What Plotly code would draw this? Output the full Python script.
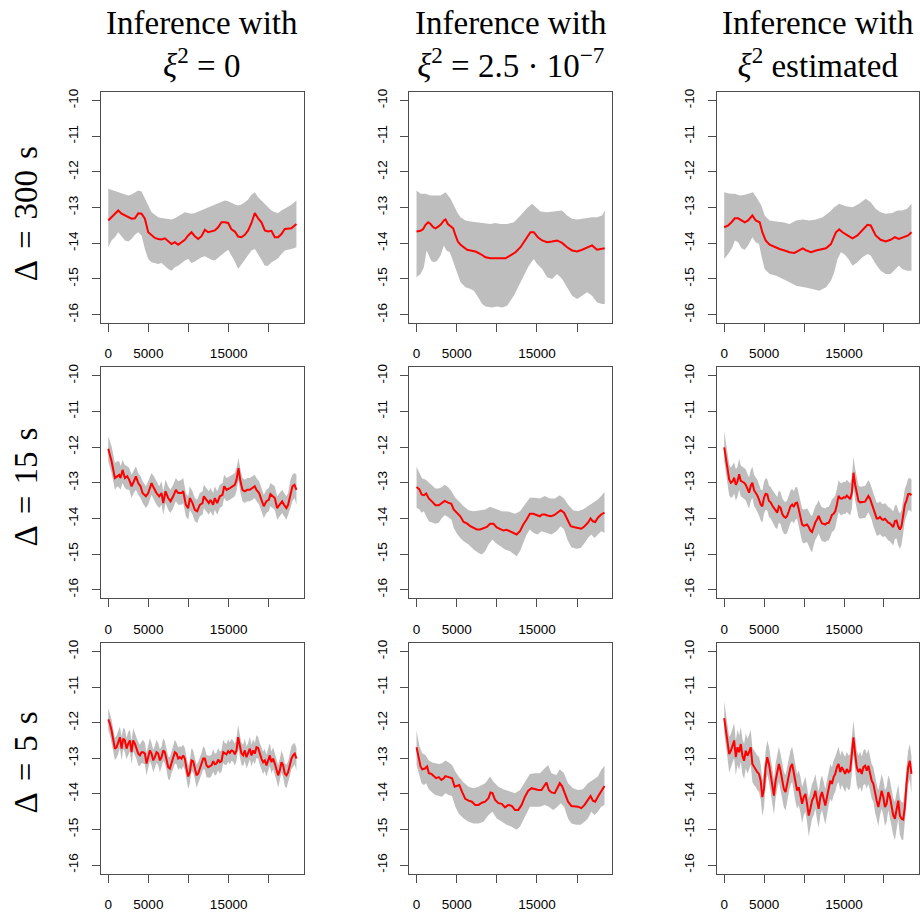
import plotly.graph_objects as go

# ---------------- data (time in seconds, log-scale values) ----------------
X_TICKS = [0, 5000, 15000]
X_TICK_TEXT = ["0", "5000", "15000"]
X_MINOR_TICKS = [10000, 20000]
Y_TICKS = [-16, -15, -14, -13, -12, -11, -10]
Y_TICK_TEXT = ["-16", "-15", "-14", "-13", "-12", "-11", "-10"]

COL_TITLES = ["Inference with<br><i>ξ</i><sup>2</sup> = 0",
              "Inference with<br><i>ξ</i><sup>2</sup> = 2.5 · 10<sup>−7</sup>",
              "Inference with<br><i>ξ</i><sup>2</sup> estimated"]
ROW_TITLES = ["Δ\u2004=\u2004300\u2004s", "Δ\u2004=\u200415\u2004s", "Δ\u2004=\u20045\u2004s"]

# common time grid for the densely sampled panels
T5 = [0, 208, 415, 623, 830, 1038, 1245, 1453, 1660, 1868,
      2075, 2283, 2490, 2698, 2905, 3113, 3320, 3528, 3735, 3943,
      4150, 4358, 4565, 4773, 4980, 5188, 5395, 5603, 5810, 6018,
      6225, 6433, 6640, 6848, 7055, 7263, 7470, 7678, 7885, 8093,
      8300, 8508, 8715, 8923, 9130, 9338, 9545, 9753, 9960, 10168,
      10375, 10583, 10790, 10998, 11205, 11413, 11620, 11828, 12035, 12243,
      12450, 12658, 12865, 13073, 13280, 13488, 13695, 13903, 14110, 14318,
      14525, 14733, 14940, 15148, 15355, 15563, 15770, 15978, 16185, 16393,
      16600, 16808, 17015, 17223, 17430, 17638, 17845, 18053, 18260, 18468,
      18675, 18883, 19090, 19298, 19505, 19713, 19920, 20128, 20335, 20543,
      20750, 20958, 21165, 21373, 21580, 21788, 21995, 22203, 22410, 22618,
      22825, 23033, 23240, 23448]

# ---- row 1, col 1 ----
R1C1_X = [0, 415, 830, 1245, 1660, 2075, 2490, 2905, 3320, 3735, 4150, 4565, 4980, 5395, 5810,
          6225, 6640, 7055, 7470, 7885, 8300, 8715, 9130, 9545, 9960, 10375, 10790, 11205, 11620,
          12035, 12450, 12865, 13280, 13695, 14110, 14525, 14940, 15355, 15770, 16185, 16600,
          17015, 17430, 17845, 18260, 18675, 19090, 19505, 19920, 20335, 20750, 21165, 21580,
          21995, 22410, 22825, 23447]
R1C1_MID = [-13.36, -13.27, -13.18, -13.08, -13.17, -13.22, -13.27, -13.31, -13.30, -13.16,
            -13.17, -13.31, -13.69, -13.78, -13.85, -13.88, -13.89, -13.86, -13.95, -14.02,
            -13.97, -14.04, -13.97, -13.90, -13.78, -13.69, -13.80, -13.88, -13.80, -13.62,
            -13.69, -13.67, -13.64, -13.55, -13.41, -13.41, -13.43, -13.61, -13.67, -13.81,
            -13.83, -13.76, -13.64, -13.43, -13.15, -13.30, -13.41, -13.64, -13.67, -13.65,
            -13.83, -13.83, -13.74, -13.60, -13.58, -13.58, -13.46]
R1C1_HI = [-12.47, -12.50, -12.54, -12.57, -12.58, -12.61, -12.66, -12.63, -12.58, -12.52,
           -12.55, -12.73, -12.94, -13.13, -13.20, -13.27, -13.29, -13.30, -13.31, -13.33,
           -13.30, -13.24, -13.17, -13.13, -13.15, -13.17, -13.15, -13.11, -13.08, -13.03,
           -13.01, -12.96, -12.92, -12.87, -12.85, -12.80, -12.82, -12.87, -12.91, -12.94,
           -12.91, -12.85, -12.77, -12.64, -12.57, -12.71, -12.80, -12.89, -12.99, -13.08,
           -13.13, -13.15, -13.08, -13.03, -12.99, -12.92, -12.80]
R1C1_LO = [-14.11, -13.92, -13.83, -13.69, -13.80, -13.92, -13.95, -13.88, -13.76, -13.69,
           -13.78, -14.16, -14.44, -14.53, -14.56, -14.58, -14.55, -14.63, -14.72, -14.77,
           -14.67, -14.63, -14.56, -14.48, -14.44, -14.55, -14.51, -14.46, -14.39, -14.36,
           -14.42, -14.46, -14.48, -14.42, -14.33, -14.25, -14.18, -14.33, -14.51, -14.72,
           -14.58, -14.48, -14.33, -14.20, -14.16, -14.30, -14.46, -14.63, -14.63, -14.53,
           -14.48, -14.42, -14.30, -14.20, -14.18, -14.16, -14.11]

# ---- row 1, col 2 ----
R1C2_MID_X = [0, 498, 830, 1120, 1453, 1743, 2075, 2366, 2781, 3071, 3403, 3611, 3901, 4233, 4565,
              4856, 5146, 5478, 5893, 6308, 6723, 7346, 7968, 8591, 9213, 9836, 10458, 11081,
              11703, 12326, 12948, 13571, 14193, 14608, 15106, 15646, 16268, 16891, 17513,
              18136, 18758, 19381, 20003, 20626, 21248, 21871, 22493, 23116, 23450]
R1C2_MID = [-13.67, -13.65, -13.60, -13.48, -13.41, -13.46, -13.55, -13.58, -13.52, -13.46,
            -13.36, -13.33, -13.46, -13.52, -13.58, -13.78, -13.95, -14.04, -14.11, -14.18,
            -14.20, -14.23, -14.30, -14.39, -14.42, -14.42, -14.44, -14.42, -14.34, -14.25,
            -14.11, -13.88, -13.69, -13.69, -13.83, -13.92, -13.97, -13.95, -13.92, -13.99,
            -14.11, -14.20, -14.23, -14.18, -14.11, -14.06, -14.18, -14.16, -14.14]
R1C2_HI_X = [0, 498, 1120, 1743, 2366, 2988, 3611, 4233, 4648, 5063, 5478, 6101, 6723, 7346, 7968,
             8591, 9213, 9836, 10458, 11288, 12118, 12948, 13778, 14401, 14816, 15438, 16268,
             16891, 17513, 18136, 18758, 19381, 20003, 20626, 21248, 21871, 22493, 23116, 23450]
R1C2_HI = [-12.52, -12.61, -12.61, -12.66, -12.66, -12.66, -12.57, -12.75, -12.94, -13.13,
           -13.27, -13.36, -13.39, -13.41, -13.43, -13.46, -13.46, -13.43, -13.46, -13.46,
           -13.41, -13.22, -13.01, -12.89, -12.99, -13.11, -13.13, -13.11, -13.08, -13.08,
           -13.22, -13.31, -13.33, -13.31, -13.27, -13.27, -13.27, -13.22, -13.08]
R1C2_LO_X = [0, 498, 913, 1245, 1536, 1826, 2158, 2573, 2988, 3403, 3735, 4150, 4648, 5063, 5478,
             6101, 6723, 7138, 7553, 8176, 8591, 9421, 10043, 10666, 11288, 12118, 12741, 13363,
             13986, 14608, 15023, 15646, 16268, 16891, 17513, 18136, 18758, 19381, 20003, 20626,
             21248, 21871, 22493, 23116, 23450]
R1C2_LO = [-14.95, -14.86, -14.67, -14.20, -14.34, -14.49, -14.53, -14.49, -14.34, -14.06,
           -14.20, -14.25, -14.53, -14.81, -15.09, -15.23, -15.28, -15.33, -15.47, -15.70,
           -15.77, -15.80, -15.77, -15.80, -15.75, -15.47, -15.19, -14.91, -14.63, -14.44,
           -14.58, -14.72, -14.95, -15.00, -14.86, -15.00, -15.23, -15.47, -15.56, -15.47,
           -15.37, -15.47, -15.66, -15.70, -15.70]

# ---- row 1, col 3 ----
R1C3_MID_X = [0, 498, 913, 1328, 1743, 2158, 2573, 2988, 3528, 3943, 4441, 4773, 5188, 5686, 6308,
              6931, 7553, 8176, 8798, 9421, 9836, 10251, 10873, 11496, 12118, 12741, 13363, 13986,
              14401, 14816, 15438, 16061, 16683, 17306, 17928, 18343, 18966, 19588, 20211, 20833,
              21373, 21871, 22493, 23033, 23448]
R1C3_MID = [-13.55, -13.50, -13.41, -13.30, -13.30, -13.36, -13.41, -13.36, -13.22, -13.36,
            -13.41, -13.69, -13.92, -14.04, -14.11, -14.16, -14.20, -14.25, -14.27, -14.18,
            -14.14, -14.20, -14.25, -14.20, -14.16, -14.14, -14.02, -13.69, -13.61, -13.69,
            -13.78, -13.86, -13.78, -13.64, -13.48, -13.50, -13.78, -13.90, -13.95, -13.90,
            -13.83, -13.88, -13.83, -13.78, -13.69]
R1C3_HI_X = [0, 706, 1328, 1951, 2573, 3196, 3611, 4026, 4648, 5063, 5686, 6516, 7346, 8176, 9006,
             9836, 10666, 11496, 12326, 13156, 13778, 14401, 15231, 16061, 16891, 17721, 18343,
             18966, 19588, 20211, 21041, 21663, 22286, 22908, 23448]
R1C3_HI = [-12.57, -12.61, -12.61, -12.66, -12.64, -12.61, -12.57, -12.71, -12.94, -13.22,
           -13.36, -13.39, -13.41, -13.46, -13.36, -13.33, -13.36, -13.33, -13.27, -13.13,
           -12.99, -12.89, -12.96, -12.99, -12.89, -12.75, -12.85, -13.03, -13.13, -13.17,
           -13.15, -13.08, -13.08, -13.03, -12.89]
R1C3_LO_X = [0, 498, 1038, 1328, 1743, 2158, 2573, 2988, 3528, 3943, 4358, 4648, 5063, 5686, 6516,
             7346, 8176, 9006, 9836, 10666, 11911, 12741, 13363, 13778, 14193, 14608, 15023,
             15563, 16061, 16683, 17306, 17928, 18343, 18966, 19588, 20211, 20833, 21456, 21871,
             22286, 22908, 23448]
R1C3_LO = [-14.44, -14.30, -14.11, -13.92, -13.97, -14.14, -14.18, -14.06, -13.83, -13.97,
           -14.02, -14.34, -14.72, -14.86, -14.91, -15.00, -15.09, -15.19, -15.23, -15.26,
           -15.33, -15.23, -15.05, -14.81, -14.44, -14.25, -14.30, -14.44, -14.63, -14.53,
           -14.39, -14.30, -14.34, -14.58, -14.77, -14.86, -14.86, -14.72, -14.63, -14.72,
           -14.77, -14.77]

# ---- row 2, col 1 ----
R2C1_X = [0, 415, 830, 1120, 1370, 1535, 1785, 2075, 2365, 2615, 2905, 3195, 3445, 3735, 4025,
          4275, 4690, 4980, 5395, 5685, 6020, 6350, 6640, 6850, 7140, 7470, 7760, 8090, 8425,
          8715, 9130, 9340, 9670, 9960, 10170, 10500, 10790, 11080, 11410, 11745, 11910, 12240,
          12530, 12740, 13070, 13280, 13570, 13900, 14235, 14440, 14735, 15150, 15480, 15770,
          15980, 16225, 16475, 16725, 17015, 17305, 17640, 17970, 18260, 18470, 18800, 19090,
          19380, 19710, 20000, 20210, 20460, 20750, 21040, 21370, 21665, 21910, 22200, 22410,
          22700, 22950, 23200, 23450]
R2C1_MID = [-12.05, -12.40, -12.87, -12.82, -12.78, -12.87, -12.64, -12.87, -12.82, -12.92,
            -13.10, -12.96, -12.82, -13.01, -13.10, -13.29, -13.38, -13.29, -13.01, -13.15,
            -13.29, -13.38, -13.29, -13.57, -13.24, -13.43, -13.52, -13.38, -13.20, -13.29,
            -13.29, -13.24, -13.62, -13.71, -13.43, -13.57, -13.76, -13.80, -13.62, -13.57,
            -13.38, -13.48, -13.57, -13.48, -13.62, -13.43, -13.57, -13.38, -13.34, -13.10,
            -13.20, -13.15, -13.10, -13.06, -12.92, -12.59, -12.96, -13.20, -13.24, -13.20,
            -13.20, -13.15, -13.10, -13.20, -13.29, -13.48, -13.66, -13.52, -13.48, -13.32,
            -13.38, -13.43, -13.71, -13.62, -13.52, -13.62, -13.71, -13.62, -13.34, -13.10,
            -13.06, -13.20]
R2C1_HI = [-11.70, -11.98, -12.45, -12.40, -12.40, -12.54, -12.36, -12.50, -12.54, -12.59,
           -12.78, -12.64, -12.54, -12.73, -12.82, -12.96, -13.10, -12.96, -12.73, -12.82,
           -12.96, -13.10, -12.96, -13.24, -12.92, -13.10, -13.20, -13.06, -12.87, -12.96,
           -12.92, -12.87, -13.29, -13.38, -13.10, -13.24, -13.43, -13.48, -13.29, -13.24,
           -13.06, -13.15, -13.24, -13.15, -13.29, -13.10, -13.24, -13.06, -13.01, -12.78,
           -12.87, -12.82, -12.78, -12.73, -12.59, -12.31, -12.64, -12.87, -12.92, -12.87,
           -12.87, -12.82, -12.78, -12.87, -12.96, -13.15, -13.34, -13.20, -13.15, -13.01,
           -13.06, -13.10, -13.38, -13.29, -13.20, -13.29, -13.38, -13.29, -12.92, -12.78,
           -12.73, -12.78]
R2C1_LO = [-12.40, -12.73, -13.20, -13.10, -13.14, -13.20, -13.01, -13.15, -13.20, -13.20,
           -13.43, -13.29, -13.20, -13.34, -13.43, -13.57, -13.71, -13.62, -13.34, -13.48,
           -13.62, -13.71, -13.62, -13.90, -13.57, -13.76, -13.85, -13.71, -13.52, -13.62,
           -13.62, -13.57, -13.94, -14.04, -13.76, -13.90, -14.08, -14.13, -13.94, -13.90,
           -13.71, -13.80, -13.90, -13.80, -13.94, -13.76, -13.90, -13.71, -13.66, -13.43,
           -13.52, -13.48, -13.43, -13.38, -13.24, -12.92, -13.29, -13.52, -13.57, -13.52,
           -13.52, -13.48, -13.43, -13.52, -13.62, -13.80, -13.99, -13.85, -13.80, -13.66,
           -13.71, -13.76, -14.04, -13.94, -13.85, -13.94, -14.04, -13.94, -13.71, -13.52,
           -13.43, -13.62]

# ---- row 2, col 2 ----
R2C2_MID_X = [0, 372, 620, 909, 1198, 1528, 1941, 2354, 2767, 3180, 3511, 3924, 4337, 4626, 5039,
              5452, 5865, 6278, 6691, 7104, 7517, 7930, 8343, 8756, 9169, 9582, 9995, 10408,
              10821, 11234, 11647, 12060, 12473, 12886, 13299, 13712, 14125, 14538, 14951, 15364,
              15653, 15983, 16314, 16727, 17140, 17553, 17966, 18379, 18792, 19205, 19700, 20113,
              20526, 20939, 21352, 21683, 21972, 22261, 22591, 23004, 23417]
R2C2_MID = [-13.12, -13.19, -13.33, -13.35, -13.30, -13.44, -13.53, -13.63, -13.63, -13.56,
            -13.51, -13.56, -13.59, -13.75, -13.84, -13.94, -14.10, -14.14, -14.22, -14.26,
            -14.31, -14.31, -14.28, -14.24, -14.15, -14.15, -14.25, -14.29, -14.34, -14.32,
            -14.36, -14.40, -14.45, -14.36, -14.17, -14.03, -13.87, -13.87, -13.91, -13.94,
            -13.89, -13.89, -13.92, -13.94, -13.91, -13.84, -13.77, -13.84, -14.03, -14.22,
            -14.25, -14.26, -14.29, -14.22, -14.12, -14.00, -14.08, -14.10, -13.98, -13.89,
            -13.84]
R2C2_HI_X = [0, 372, 702, 1115, 1528, 1941, 2354, 2767, 3180, 3511, 3924, 4337, 4832, 5245, 5865,
             6484, 7104, 7723, 8549, 9169, 9788, 10614, 11440, 12266, 12886, 13505, 14125, 14744,
             15364, 15983, 16603, 17222, 17842, 18379, 18874, 19494, 20113, 20733, 21352, 21972,
             22591, 23004, 23417]
R2C2_HI = [-12.56, -12.72, -12.88, -12.91, -13.00, -13.09, -13.16, -13.16, -13.12, -13.06,
           -13.12, -13.23, -13.42, -13.51, -13.66, -13.77, -13.80, -13.78, -13.75, -13.67,
           -13.72, -13.80, -13.81, -13.87, -13.80, -13.61, -13.42, -13.42, -13.44, -13.37,
           -13.44, -13.44, -13.35, -13.44, -13.61, -13.77, -13.80, -13.75, -13.66, -13.56,
           -13.47, -13.37, -13.26]
R2C2_LO_X = [0, 372, 620, 909, 1198, 1528, 1941, 2354, 2767, 3180, 3511, 3924, 4337, 4626, 5039,
             5452, 5865, 6484, 7104, 7723, 8136, 8549, 8962, 9458, 9871, 10408, 11027, 11647,
             12060, 12473, 12886, 13299, 13712, 14125, 14538, 15075, 15570, 16190, 16809, 17429,
             17966, 18379, 18792, 19287, 19907, 20444, 20939, 21352, 21765, 22178, 22591, 23004,
             23417]
R2C2_LO = [-13.70, -13.75, -13.84, -13.80, -13.94, -14.08, -14.12, -14.15, -14.12, -13.98,
           -13.91, -13.96, -14.03, -14.26, -14.43, -14.55, -14.64, -14.73, -14.87, -14.97,
           -15.01, -14.92, -14.73, -14.59, -14.69, -14.78, -14.87, -14.92, -15.00, -15.06,
           -14.92, -14.69, -14.45, -14.31, -14.40, -14.45, -14.36, -14.40, -14.45, -14.36,
           -14.22, -14.31, -14.59, -14.81, -14.85, -14.83, -14.69, -14.55, -14.45, -14.55,
           -14.45, -14.36, -14.40]

# ---- row 2, col 3 (on T5 grid) ----
R2C3_MID = [-12.01, -12.30, -12.62, -12.91, -13.00, -12.97, -12.86, -13.06, -12.97, -12.76,
            -12.95, -12.97, -13.00, -13.06, -13.19, -13.28, -13.09, -13.00, -13.21, -13.28,
            -13.36, -13.47, -13.61, -13.66, -13.42, -13.31, -13.33, -13.51, -13.55, -13.64,
            -13.72, -13.80, -13.84, -13.66, -13.70, -13.87, -13.95, -13.98, -13.93, -13.80,
            -13.66, -13.61, -13.68, -13.57, -13.56, -13.75, -13.98, -14.17, -14.21, -14.19,
            -14.17, -14.24, -14.34, -14.38, -14.24, -14.11, -14.03, -13.93, -14.05, -14.14,
            -14.15, -14.17, -14.13, -14.13, -14.03, -13.90, -13.87, -13.80, -13.61, -13.37,
            -13.44, -13.45, -13.41, -13.42, -13.36, -13.40, -13.46, -13.28, -12.72, -13.05,
            -13.31, -13.51, -13.55, -13.54, -13.53, -13.53, -13.45, -13.37, -13.45, -13.58,
            -13.75, -13.89, -14.00, -14.00, -13.96, -14.02, -14.04, -14.01, -14.08, -14.12,
            -14.14, -14.19, -14.24, -14.08, -14.06, -14.23, -14.31, -14.22, -13.94, -13.61,
            -13.50, -13.32, -13.31, -13.35]
R2C3_HI = [-11.55, -11.85, -12.20, -12.48, -12.58, -12.52, -12.43, -12.62, -12.55, -12.33,
           -12.52, -12.55, -12.58, -12.62, -12.76, -12.85, -12.65, -12.55, -12.78, -12.85,
           -12.92, -13.04, -13.18, -13.22, -12.98, -12.87, -12.90, -13.08, -13.12, -13.20,
           -13.28, -13.36, -13.40, -13.22, -13.26, -13.43, -13.51, -13.54, -13.49, -13.36,
           -13.22, -13.17, -13.24, -13.13, -13.12, -13.31, -13.54, -13.72, -13.76, -13.74,
           -13.72, -13.79, -13.89, -13.93, -13.79, -13.66, -13.59, -13.49, -13.61, -13.69,
           -13.70, -13.72, -13.68, -13.68, -13.59, -13.46, -13.43, -13.36, -13.17, -12.93,
           -13.00, -13.01, -12.97, -12.98, -12.92, -12.96, -13.02, -12.84, -12.28, -12.61,
           -12.87, -13.07, -13.11, -13.10, -13.09, -13.09, -13.01, -12.93, -13.01, -13.14,
           -13.31, -13.45, -13.56, -13.56, -13.52, -13.58, -13.60, -13.57, -13.64, -13.68,
           -13.70, -13.75, -13.80, -13.64, -13.62, -13.78, -13.86, -13.77, -13.50, -13.17,
           -13.06, -12.88, -12.87, -12.91]
R2C3_LO = [-12.40, -12.72, -13.05, -13.35, -13.42, -13.40, -13.30, -13.50, -13.40, -13.20,
           -13.38, -13.42, -13.45, -13.50, -13.62, -13.72, -13.52, -13.42, -13.65, -13.72,
           -13.80, -13.92, -14.05, -14.12, -13.87, -13.76, -13.78, -13.96, -14.00, -14.10,
           -14.18, -14.27, -14.30, -14.12, -14.16, -14.33, -14.42, -14.45, -14.40, -14.26,
           -14.12, -14.07, -14.14, -14.03, -14.02, -14.22, -14.45, -14.65, -14.70, -14.68,
           -14.66, -14.75, -14.88, -14.95, -14.76, -14.60, -14.52, -14.42, -14.55, -14.64,
           -14.65, -14.67, -14.62, -14.62, -14.52, -14.38, -14.35, -14.27, -14.07, -13.82,
           -13.90, -13.91, -13.87, -13.88, -13.82, -13.86, -13.92, -13.73, -13.15, -13.50,
           -13.77, -13.97, -14.01, -14.00, -13.99, -13.99, -13.91, -13.83, -13.91, -14.04,
           -14.22, -14.36, -14.48, -14.48, -14.44, -14.50, -14.52, -14.49, -14.57, -14.62,
           -14.64, -14.70, -14.76, -14.58, -14.56, -14.75, -14.85, -14.74, -14.42, -14.08,
           -13.96, -13.78, -13.77, -13.82]

# ---- row 3, col 1 (on T5 grid) ----
R3C1_MID = [-11.91, -12.03, -12.22, -12.50, -12.73, -12.69, -12.55, -12.41, -12.73, -12.45,
            -12.50, -12.73, -12.59, -12.50, -12.83, -12.50, -12.59, -12.73, -12.87, -12.92,
            -12.83, -12.83, -12.87, -13.15, -12.97, -12.78, -12.87, -13.06, -12.97, -12.83,
            -12.87, -13.06, -12.97, -12.78, -12.83, -13.01, -13.25, -13.29, -13.11, -13.01,
            -12.83, -12.87, -13.01, -12.97, -13.01, -12.92, -13.01, -13.29, -13.51, -13.39,
            -13.06, -13.08, -13.25, -13.48, -13.43, -13.29, -13.15, -13.01, -13.01, -13.20,
            -13.25, -13.23, -13.20, -13.08, -13.17, -13.15, -13.04, -13.11, -13.08, -12.83,
            -12.87, -12.89, -12.80, -12.85, -12.78, -12.80, -12.89, -12.78, -12.41, -12.64,
            -12.87, -12.92, -12.78, -12.97, -12.87, -12.73, -12.92, -12.78, -12.87, -12.69,
            -12.71, -12.87, -13.01, -13.11, -13.06, -13.20, -13.06, -12.92, -13.11, -13.01,
            -13.15, -13.29, -13.48, -13.34, -13.11, -13.20, -13.43, -13.48, -13.39, -13.20,
            -13.01, -12.92, -12.87, -13.01]
R3C1_HI = [-11.59, -11.73, -11.92, -12.18, -12.43, -12.36, -12.25, -12.11, -12.39, -12.15,
           -12.18, -12.43, -12.26, -12.20, -12.51, -12.16, -12.29, -12.43, -12.54, -12.62,
           -12.53, -12.49, -12.57, -12.85, -12.64, -12.43, -12.57, -12.76, -12.65, -12.49,
           -12.57, -12.75, -12.67, -12.43, -12.53, -12.71, -12.95, -12.97, -12.81, -12.68,
           -12.48, -12.57, -12.69, -12.67, -12.68, -12.62, -12.71, -12.99, -13.21, -13.07,
           -12.71, -12.78, -12.95, -13.18, -13.10, -12.99, -12.85, -12.67, -12.71, -12.90,
           -12.93, -12.93, -12.90, -12.75, -12.87, -12.85, -12.71, -12.81, -12.78, -12.48,
           -12.57, -12.59, -12.47, -12.55, -12.46, -12.50, -12.59, -12.44, -12.06, -12.34,
           -12.57, -12.62, -12.45, -12.67, -12.57, -12.39, -12.62, -12.46, -12.57, -12.35,
           -12.41, -12.57, -12.71, -12.81, -12.74, -12.90, -12.73, -12.58, -12.81, -12.69,
           -12.85, -12.99, -13.18, -13.02, -12.78, -12.90, -13.13, -13.18, -13.09, -12.88,
           -12.66, -12.60, -12.57, -12.71]
R3C1_LO = [-12.21, -12.35, -12.57, -12.85, -13.05, -12.99, -12.87, -12.71, -13.06, -12.75,
           -12.83, -13.03, -12.91, -12.80, -13.17, -12.80, -12.91, -13.03, -13.20, -13.22,
           -13.13, -13.15, -13.17, -13.49, -13.27, -13.08, -13.19, -13.39, -13.27, -13.13,
           -13.19, -13.40, -13.27, -13.08, -13.15, -13.34, -13.59, -13.61, -13.41, -13.31,
           -13.15, -13.17, -13.34, -13.27, -13.33, -13.22, -13.33, -13.64, -13.86, -13.71,
           -13.36, -13.40, -13.58, -13.83, -13.75, -13.59, -13.45, -13.31, -13.33, -13.53,
           -13.55, -13.55, -13.50, -13.38, -13.49, -13.45, -13.34, -13.43, -13.38, -13.13,
           -13.19, -13.19, -13.10, -13.17, -13.08, -13.10, -13.21, -13.08, -12.71, -12.97,
           -13.19, -13.22, -13.08, -13.29, -13.17, -13.03, -13.24, -13.08, -13.17, -12.99,
           -13.01, -13.19, -13.31, -13.44, -13.36, -13.52, -13.36, -13.22, -13.43, -13.31,
           -13.47, -13.62, -13.83, -13.66, -13.41, -13.53, -13.78, -13.84, -13.71, -13.50,
           -13.31, -13.24, -13.17, -13.36]

# ---- row 3, col 2 ----
R3C2_MID_X = [0, 289, 496, 702, 1033, 1322, 1528, 1859, 2148, 2437, 2767, 3098, 3387, 3593, 4006,
              4419, 4750, 5039, 5328, 5658, 6071, 6484, 6897, 7310, 7723, 8136, 8549, 8962, 9210,
              9458, 9788, 10201, 10614, 11027, 11440, 11853, 12266, 12679, 13092, 13505, 13918,
              14331, 14744, 15157, 15570, 15983, 16190, 16479, 16809, 17222, 17553, 17842, 18131,
              18461, 18874, 19287, 19700, 20113, 20526, 20939, 21352, 21683, 21972, 22261, 22591,
              23004, 23417]
R3C2_MID = [-12.69, -13.00, -13.23, -13.31, -13.29, -13.23, -13.42, -13.44, -13.51, -13.56,
            -13.53, -13.61, -13.56, -13.50, -13.53, -13.56, -13.80, -13.78, -13.75, -13.94,
            -14.14, -14.19, -14.22, -14.31, -14.31, -14.25, -14.22, -14.12, -13.96, -13.98,
            -14.17, -14.26, -14.28, -14.38, -14.31, -14.34, -14.45, -14.45, -14.31, -14.08,
            -13.91, -13.84, -13.87, -13.89, -13.89, -13.75, -13.68, -13.89, -13.96, -13.98,
            -13.84, -13.70, -13.78, -13.98, -14.22, -14.34, -14.34, -14.36, -14.40, -14.31,
            -14.17, -14.06, -14.19, -14.22, -14.08, -13.91, -13.78]
R3C2_HI_X = [0, 372, 702, 1115, 1528, 1941, 2354, 2767, 3180, 3593, 4006, 4419, 4832, 5245, 5865,
             6484, 7104, 7723, 8549, 9169, 9582, 10201, 10821, 11440, 12266, 12886, 13505, 14125,
             14744, 15364, 15983, 16396, 16809, 17429, 17842, 18379, 18874, 19494, 20113, 20733,
             21352, 21972, 22591, 23004, 23417]
R3C2_HI = [-12.22, -12.67, -12.86, -12.91, -13.06, -13.12, -13.14, -13.16, -13.14, -13.06,
           -13.12, -13.19, -13.37, -13.51, -13.68, -13.80, -13.84, -13.80, -13.70, -13.51,
           -13.66, -13.80, -13.87, -13.91, -13.98, -13.89, -13.66, -13.44, -13.42, -13.42,
           -13.28, -13.19, -13.42, -13.47, -13.31, -13.42, -13.70, -13.84, -13.89, -13.87,
           -13.70, -13.61, -13.51, -13.33, -13.21]
R3C2_LO_X = [0, 289, 620, 909, 1198, 1528, 1941, 2354, 2767, 3180, 3593, 4006, 4419, 4832, 5245,
             5865, 6484, 7104, 7723, 8343, 8962, 9458, 9995, 10614, 11234, 11853, 12473, 12886,
             13505, 14125, 14744, 15364, 15983, 16479, 17016, 17553, 17966, 18379, 18874, 19287,
             19907, 20444, 20939, 21352, 21765, 22178, 22591, 23004, 23417]
R3C2_LO = [-13.19, -13.42, -13.70, -13.75, -13.70, -13.87, -13.96, -14.03, -14.06, -14.08,
           -13.98, -14.03, -14.06, -14.36, -14.55, -14.69, -14.78, -14.83, -14.83, -14.78,
           -14.59, -14.50, -14.69, -14.78, -14.87, -14.92, -15.01, -14.92, -14.64, -14.36,
           -14.36, -14.36, -14.31, -14.36, -14.45, -14.36, -14.26, -14.36, -14.69, -14.83,
           -14.87, -14.87, -14.78, -14.69, -14.50, -14.59, -14.50, -14.36, -14.31]

# ---- row 3, col 3 (on T5 grid) ----
R3C3_MID = [-11.87, -12.18, -12.50, -12.88, -12.79, -12.64, -12.50, -12.97, -12.69, -12.83,
            -12.60, -12.93, -13.07, -12.79, -12.93, -12.83, -12.69, -13.16, -13.25, -13.30,
            -13.39, -13.44, -13.63, -14.09, -13.86, -13.25, -12.97, -13.16, -13.44, -13.81,
            -14.05, -13.63, -13.35, -13.16, -13.35, -13.63, -13.86, -13.95, -13.72, -13.44,
            -13.25, -13.16, -13.44, -13.72, -13.91, -13.81, -14.00, -14.28, -14.09, -14.00,
            -14.28, -14.61, -14.42, -14.19, -14.09, -13.91, -14.19, -14.42, -14.09, -13.95,
            -14.14, -14.33, -14.09, -13.81, -13.63, -13.72, -13.53, -13.44, -13.25, -13.16,
            -13.39, -13.25, -13.35, -13.44, -13.30, -13.39, -13.35, -12.93, -12.41, -12.88,
            -13.25, -13.39, -13.30, -13.44, -13.25, -13.21, -13.35, -13.21, -13.39, -13.63,
            -13.72, -14.00, -14.19, -14.37, -14.09, -13.91, -14.09, -14.37, -14.28, -13.95,
            -14.09, -14.37, -14.60, -14.70, -14.47, -14.19, -14.61, -14.70, -14.72, -14.37,
            -13.72, -13.25, -13.07, -13.44]
R3C3_HI = [-11.40, -11.70, -12.02, -12.40, -12.32, -12.15, -12.02, -12.50, -12.20, -12.36,
           -12.12, -12.46, -12.60, -12.30, -12.46, -12.35, -12.20, -12.70, -12.78, -12.82,
           -12.92, -12.96, -13.16, -13.62, -13.38, -12.78, -12.50, -12.68, -12.96, -13.34,
           -13.58, -13.15, -12.88, -12.68, -12.88, -13.16, -13.38, -13.48, -13.25, -12.96,
           -12.78, -12.68, -12.96, -13.25, -13.44, -13.34, -13.52, -13.80, -13.62, -13.52,
           -13.80, -14.12, -13.94, -13.72, -13.62, -13.44, -13.72, -13.94, -13.62, -13.48,
           -13.66, -13.86, -13.62, -13.34, -13.16, -13.25, -13.06, -12.96, -12.78, -12.68,
           -12.92, -12.78, -12.88, -12.96, -12.82, -12.92, -12.88, -12.45, -11.95, -12.40,
           -12.78, -12.92, -12.82, -12.96, -12.78, -12.74, -12.88, -12.74, -12.92, -13.16,
           -13.25, -13.52, -13.72, -13.90, -13.62, -13.44, -13.62, -13.90, -13.80, -13.48,
           -13.62, -13.90, -14.12, -14.22, -14.00, -13.72, -14.14, -14.22, -14.25, -13.90,
           -13.25, -12.78, -12.60, -12.96]
R3C3_LO = [-12.30, -12.65, -13.00, -13.40, -13.30, -13.12, -13.00, -13.48, -13.18, -13.33,
           -13.10, -13.45, -13.58, -13.28, -13.43, -13.32, -13.18, -13.66, -13.76, -13.80,
           -13.90, -13.95, -14.15, -14.62, -14.38, -13.75, -13.46, -13.66, -13.95, -14.32,
           -14.58, -14.13, -13.85, -13.66, -13.85, -14.14, -14.38, -14.46, -14.22, -13.94,
           -13.75, -13.66, -13.95, -14.23, -14.42, -14.32, -14.52, -14.82, -14.60, -14.50,
           -14.80, -15.20, -14.95, -14.70, -14.60, -14.42, -14.72, -14.96, -14.60, -14.45,
           -14.66, -14.86, -14.60, -14.32, -14.14, -14.22, -14.04, -13.94, -13.75, -13.66,
           -13.90, -13.75, -13.85, -13.95, -13.80, -13.90, -13.85, -13.42, -12.90, -13.38,
           -13.75, -13.90, -13.80, -13.95, -13.75, -13.72, -13.85, -13.72, -13.90, -14.14,
           -14.22, -14.52, -14.70, -14.90, -14.60, -14.42, -14.60, -14.90, -14.80, -14.45,
           -14.60, -14.90, -15.15, -15.30, -15.00, -14.70, -15.15, -15.28, -15.30, -14.90,
           -14.22, -13.75, -13.58, -14.00]

# ---------------- figure ----------------
W, H = 920, 913
COL_PX = [(100.7, 304.0), (409.0, 612.3), (716.7, 919.0)]
ROW_PX = [(89.3, 321.3), (365.3, 597.3), (642.0, 873.5)]
X_RANGE = [-940, 24390]
Y_RANGE = [-16.24, -9.76]
BAND = "#BEBEBE"
LINE = "#FF0000"
AXC = "#4d4d4d"
TICK_FONT = dict(family="Liberation Sans, Arial, sans-serif", size=13.5, color="black")
SERIF = "Liberation Serif"

panels = [
    (0, 0, R1C1_X, R1C1_HI, R1C1_X, R1C1_LO, R1C1_X, R1C1_MID),
    (0, 1, R1C2_HI_X, R1C2_HI, R1C2_LO_X, R1C2_LO, R1C2_MID_X, R1C2_MID),
    (0, 2, R1C3_HI_X, R1C3_HI, R1C3_LO_X, R1C3_LO, R1C3_MID_X, R1C3_MID),
    (1, 0, R2C1_X, R2C1_HI, R2C1_X, R2C1_LO, R2C1_X, R2C1_MID),
    (1, 1, R2C2_HI_X, R2C2_HI, R2C2_LO_X, R2C2_LO, R2C2_MID_X, R2C2_MID),
    (1, 2, T5, R2C3_HI, T5, R2C3_LO, T5, R2C3_MID),
    (2, 0, T5, R3C1_HI, T5, R3C1_LO, T5, R3C1_MID),
    (2, 1, R3C2_HI_X, R3C2_HI, R3C2_LO_X, R3C2_LO, R3C2_MID_X, R3C2_MID),
    (2, 2, T5, R3C3_HI, T5, R3C3_LO, T5, R3C3_MID),
]

fig = go.Figure()
layout = dict(
    width=W, height=H, margin=dict(l=0, r=0, t=0, b=0),
    paper_bgcolor="white", plot_bgcolor="white", showlegend=False,
    hovermode=False,
)

for i, (r, c, hx, hy, lx, ly, mx, my) in enumerate(panels):
    n = i + 1
    xa = "x" if n == 1 else f"x{n}"
    ya = "y" if n == 1 else f"y{n}"
    nh = min(len(hx), len(hy))
    nl = min(len(lx), len(ly))
    nm = min(len(mx), len(my))
    bx = list(hx[:nh]) + list(lx[:nl])[::-1]
    by = list(hy[:nh]) + list(ly[:nl])[::-1]
    fig.add_trace(go.Scatter(x=bx, y=by, mode="lines", fill="toself", fillcolor=BAND,
                             line=dict(width=0, color=BAND), xaxis=xa, yaxis=ya,
                             hoverinfo="skip"))
    fig.add_trace(go.Scatter(x=mx[:nm], y=my[:nm], mode="lines",
                             line=dict(color=LINE, width=2), xaxis=xa, yaxis=ya,
                             hoverinfo="skip"))
    x0, x1 = COL_PX[c]
    y0, y1 = ROW_PX[r]
    xkey = "xaxis" if n == 1 else f"xaxis{n}"
    ykey = "yaxis" if n == 1 else f"yaxis{n}"
    layout[xkey] = dict(
        domain=[x0 / W, x1 / W], anchor=ya, range=X_RANGE, showgrid=False, zeroline=False,
        showline=True, linecolor=AXC, linewidth=1, mirror=True,
        ticks="outside", ticklen=8, tickcolor=AXC, tickwidth=1,
        tickmode="array", tickvals=X_TICKS, ticktext=X_TICK_TEXT, tickfont=TICK_FONT,
        tickangle=0, ticklabelstandoff=10, fixedrange=True,
        minor=dict(tickmode="array", tickvals=X_MINOR_TICKS, ticks="outside", ticklen=8,
                   tickcolor=AXC, tickwidth=1, showgrid=False),
    )
    layout[ykey] = dict(
        domain=[1 - y1 / H, 1 - y0 / H], anchor=xa, range=Y_RANGE, showgrid=False,
        zeroline=False, showline=True, linecolor=AXC, linewidth=1, mirror=True,
        ticks="outside", ticklen=8, tickcolor=AXC, tickwidth=1,
        tickmode="array", tickvals=Y_TICKS, ticktext=Y_TICK_TEXT, tickfont=TICK_FONT,
        tickangle=-90, ticklabelstandoff=8, fixedrange=True,
    )

annotations = []
for c in range(3):
    cx = (COL_PX[c][0] + COL_PX[c][1]) / 2 / W
    annotations.append(dict(text=COL_TITLES[c], x=cx, y=1 - 42 / H, xref="paper",
                            yref="paper", xanchor="center", yanchor="middle", showarrow=False,
                            font=dict(family=SERIF, size=33, color="black")))
ROW_LABEL_Y = [212, 486, 762]
for r in range(3):
    annotations.append(dict(text=ROW_TITLES[r], x=26 / W, y=1 - ROW_LABEL_Y[r] / H,
                            xref="paper", yref="paper", xanchor="center", yanchor="middle",
                            textangle=-90, showarrow=False,
                            font=dict(family=SERIF, size=33, color="black")))
layout["annotations"] = annotations
fig.update_layout(**layout)

fig.write_html("out.html", config={"displayModeBar": False, "staticPlot": True})
